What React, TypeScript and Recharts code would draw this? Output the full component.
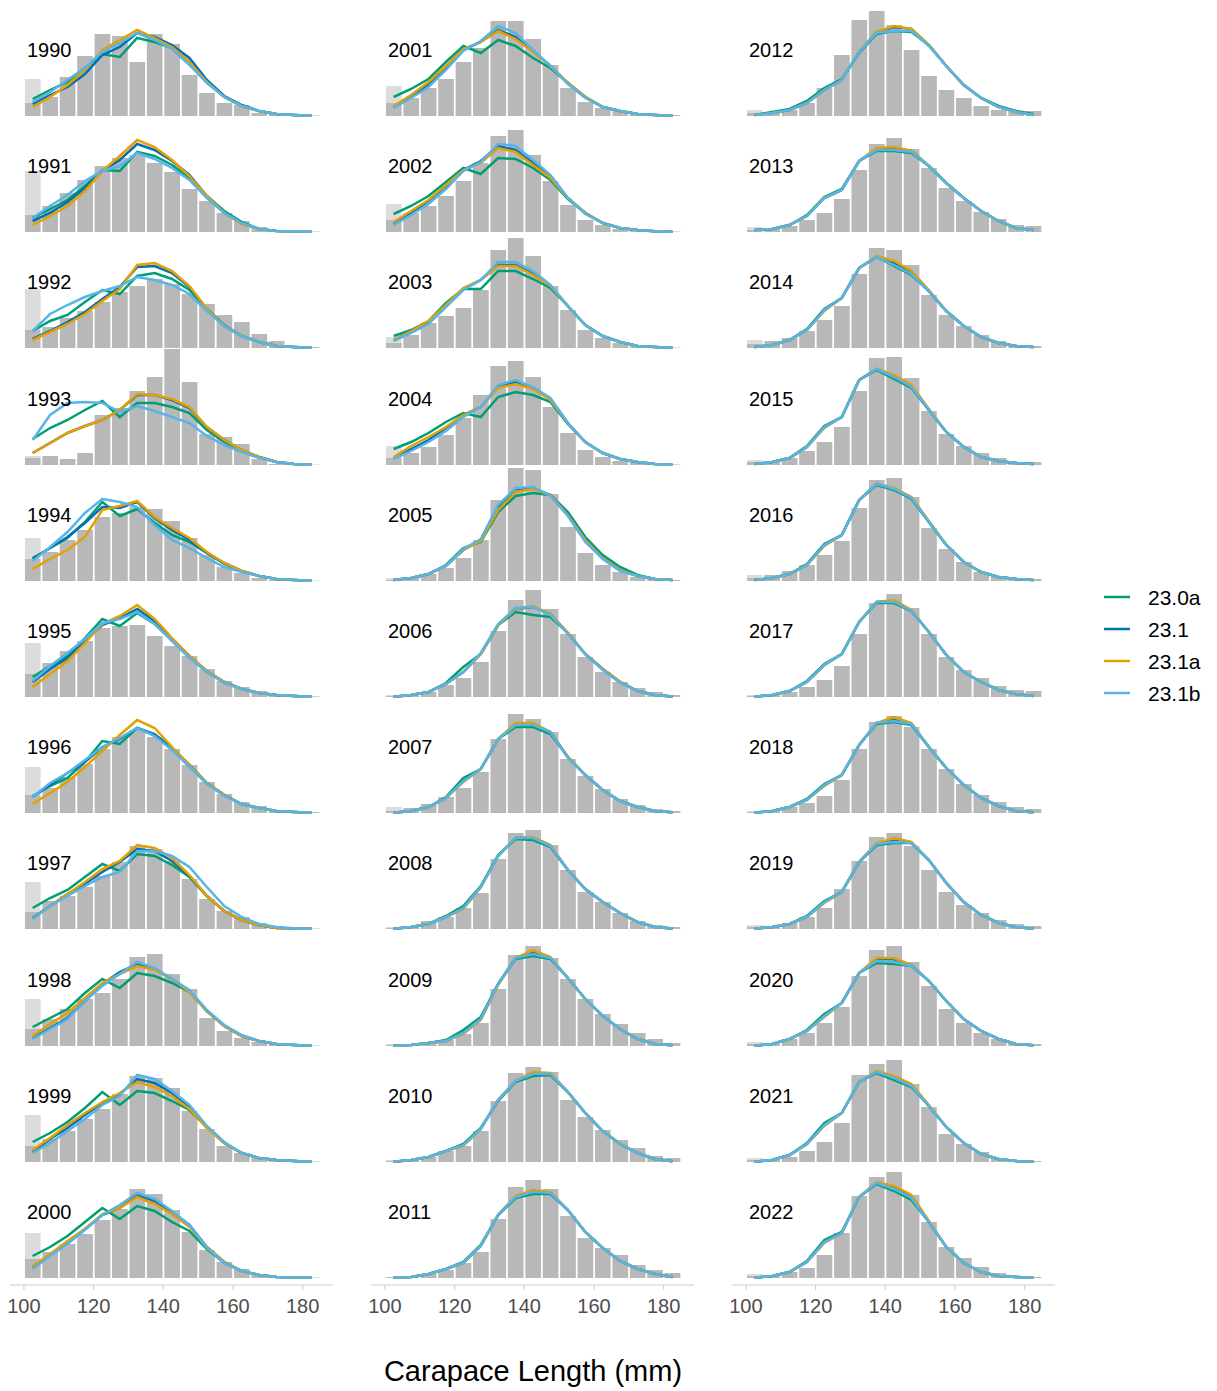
import React from 'react';
import { ComposedChart, Bar, Line, XAxis, YAxis } from 'recharts';

// facet years, column-major (11 rows x 3 cols)
const years = [
  1990, 1991, 1992, 1993, 1994, 1995, 1996, 1997, 1998, 1999, 2000,
  2001, 2002, 2003, 2004, 2005, 2006, 2007, 2008, 2009, 2010, 2011,
  2012, 2013, 2014, 2015, 2016, 2017, 2018, 2019, 2020, 2021, 2022,
];

// 5 mm length bins (mid points)
const binMids = [102.5, 107.5, 112.5, 117.5, 122.5, 127.5, 132.5, 137.5, 142.5, 147.5, 152.5, 157.5, 162.5, 167.5, 172.5, 177.5, 182.5];
const xTicks = [100, 120, 140, 160, 180];

// observed length composition (dark grey bars)
const observed = [
  [13, 19, 39, 60, 82, 80, 54, 82, 72, 41, 23, 13, 11, 3, 2, 1, 0.5],
  [17, 26, 39, 52, 66, 74, 77, 69, 60, 43, 31, 19, 11, 5, 2, 1, 0.5],
  [18, 21, 30, 37, 46, 56, 62, 69, 64, 54, 44, 33, 26, 14, 7, 2, 1],
  [7, 9, 6, 12, 50, 57, 74, 88, 116, 83, 31, 28, 21, 6, 1, 0.5, 0.3],
  [22, 29, 41, 51, 64, 68, 74, 72, 60, 43, 26, 14, 8, 3, 1, 0.5, 0.3],
  [23, 34, 46, 56, 69, 71, 72, 61, 51, 41, 28, 16, 10, 6, 3, 2, 0.7],
  [18, 25, 36, 49, 64, 76, 83, 76, 64, 48, 31, 19, 11, 7, 3, 2, 1],
  [17, 28, 33, 42, 53, 67, 83, 80, 68, 50, 30, 18, 12, 6, 3, 1, 0.5],
  [17, 27, 37, 47, 53, 67, 89, 92, 72, 57, 28, 15, 8, 4, 2, 1, 0.5],
  [16, 23, 31, 43, 53, 68, 86, 84, 74, 51, 33, 16, 9, 4, 3, 1, 0.5],
  [19, 26, 34, 44, 58, 69, 89, 84, 68, 46, 28, 16, 9, 4, 2, 1, 0.5],
  [13, 18, 28, 37, 54, 68, 95, 95, 77, 51, 28, 14, 8, 5, 3, 2, 1],
  [12, 19, 26, 36, 51, 69, 96, 102, 77, 51, 27, 12, 7, 3, 2, 1, 0.5],
  [5, 13, 25, 32, 40, 58, 98, 110, 92, 62, 38, 18, 10, 5, 2, 1, 0.5],
  [7, 12, 18, 30, 47, 70, 99, 104, 88, 58, 32, 15, 8, 4, 3, 1, 0.5],
  [1, 4, 7, 13, 23, 41, 81, 113, 111, 87, 54, 28, 16, 9, 4, 2, 1],
  [1, 2, 5, 12, 19, 35, 66, 97, 107, 88, 63, 40, 25, 15, 9, 5, 2],
  [2, 5, 9, 16, 25, 41, 74, 99, 94, 81, 54, 37, 24, 14, 8, 4, 2],
  [1, 3, 8, 12, 21, 36, 70, 96, 99, 84, 59, 37, 27, 16, 8, 4, 2],
  [1, 2, 3, 6, 12, 23, 57, 91, 100, 88, 67, 47, 32, 22, 13, 7, 3],
  [1, 3, 5, 11, 16, 31, 61, 89, 95, 90, 62, 45, 32, 22, 14, 6, 4],
  [1, 2, 4, 8, 15, 26, 59, 91, 98, 89, 62, 40, 30, 23, 13, 8, 5],
  [3, 3, 6, 13, 28, 61, 96, 105, 91, 66, 40, 26, 18, 10, 6, 4, 5],
  [2, 3, 6, 12, 19, 33, 62, 88, 94, 83, 64, 44, 31, 20, 13, 7, 6],
  [4, 7, 10, 17, 28, 42, 74, 100, 98, 83, 53, 33, 22, 13, 7, 3, 2],
  [3, 3, 7, 14, 23, 38, 74, 107, 108, 87, 54, 31, 19, 12, 7, 3, 3],
  [3, 6, 10, 16, 26, 40, 73, 101, 103, 84, 53, 32, 19, 9, 4, 2, 2],
  [1, 2, 5, 10, 17, 31, 63, 94, 103, 89, 63, 40, 27, 19, 11, 7, 6],
  [1, 2, 6, 10, 17, 33, 64, 91, 97, 86, 64, 44, 29, 18, 11, 6, 4],
  [2, 2, 6, 12, 21, 40, 68, 92, 96, 83, 59, 37, 24, 16, 9, 5, 3],
  [2, 2, 7, 13, 23, 39, 70, 96, 100, 84, 60, 37, 23, 13, 7, 3, 2],
  [2, 2, 5, 11, 20, 39, 87, 98, 102, 78, 55, 28, 18, 10, 4, 2, 1],
  [2, 2, 6, 10, 23, 45, 82, 101, 106, 83, 56, 31, 20, 11, 5, 2, 1],
];

// first bin including the lighter (excluded) part
const firstBinTotal = [
  37, 61, 59, 9, 43, 54, 46, 47, 47, 47, 45,
  30, 28, 11, 19, 3, 2, 6, 2, 2, 2, 1,
  6, 5, 8, 5, 6, 2, 2, 4, 4, 4, 4,
];

// model fits
const fit230a = [
  [17, 26, 34, 48, 62, 59, 78, 74, 68, 54, 34, 19, 10, 5, 2, 1, 0.3],
  [14, 23, 32, 46, 62, 61, 80, 76, 67, 54, 36, 21, 10, 3, 1, 0.7, 0.3],
  [17, 27, 33, 46, 58, 54, 72, 75, 69, 58, 39, 23, 12, 6, 2, 1, 0.3],
  [26, 37, 45, 55, 64, 48, 62, 62, 58, 52, 35, 23, 14, 8, 3, 1, 0.3],
  [23, 33, 43, 59, 79, 65, 72, 58, 46, 39, 28, 17, 10, 5, 2, 1, 0.3],
  [20, 31, 41, 59, 78, 71, 84, 73, 58, 40, 25, 15, 8, 4, 2, 1, 0.3],
  [17, 27, 35, 51, 72, 69, 85, 79, 65, 48, 30, 18, 9, 5, 2, 1, 0.3],
  [21, 31, 39, 52, 65, 58, 75, 73, 64, 52, 33, 18, 9, 4, 1, 0.7, 0.3],
  [19, 28, 37, 53, 67, 58, 73, 70, 63, 54, 35, 20, 10, 5, 2, 1, 0.3],
  [20, 29, 40, 54, 70, 57, 71, 69, 61, 52, 35, 19, 9, 4, 2, 1, 0.3],
  [22, 31, 42, 56, 70, 59, 72, 67, 56, 47, 29, 15, 7, 3, 1, 0.7, 0.3],
  [19, 27, 37, 54, 70, 63, 76, 70, 58, 48, 33, 19, 9, 5, 2, 1, 0.3],
  [18, 26, 36, 50, 64, 58, 74, 73, 64, 52, 33, 19, 9, 4, 2, 0.7, 0.3],
  [12, 18, 27, 45, 59, 59, 77, 77, 69, 60, 42, 23, 12, 6, 2, 1, 0.3],
  [16, 23, 32, 43, 52, 48, 68, 73, 70, 63, 41, 23, 12, 6, 3, 1, 0.3],
  [1, 3, 7, 16, 33, 39, 69, 85, 88, 86, 69, 44, 26, 14, 6, 2, 1],
  [0.3, 2, 5, 14, 30, 43, 72, 85, 82, 80, 64, 43, 28, 15, 6, 2, 0.5],
  [0.3, 2, 6, 16, 35, 44, 74, 86, 86, 79, 56, 38, 23, 12, 6, 2, 0.7],
  [0.3, 2, 5, 13, 23, 43, 74, 90, 89, 82, 59, 40, 27, 16, 7, 2, 0.5],
  [0.3, 1, 3, 6, 16, 29, 62, 87, 90, 87, 68, 47, 30, 17, 7, 2, 0.7],
  [0.3, 2, 5, 11, 18, 34, 61, 80, 86, 87, 70, 49, 31, 18, 9, 3, 0.7],
  [0.3, 1, 4, 9, 16, 33, 63, 80, 84, 84, 68, 46, 30, 17, 9, 4, 1],
  [1, 4, 7, 15, 28, 37, 63, 82, 85, 84, 71, 50, 31, 18, 10, 5, 2],
  [2, 3, 7, 17, 35, 43, 71, 81, 81, 79, 66, 49, 34, 21, 11, 4, 2],
  [1, 3, 8, 19, 39, 50, 80, 91, 82, 73, 57, 37, 22, 11, 5, 2, 1],
  [1, 3, 7, 19, 39, 48, 85, 95, 86, 77, 55, 33, 18, 8, 4, 2, 1],
  [1, 3, 7, 17, 37, 46, 81, 96, 91, 82, 59, 36, 19, 9, 4, 2, 1],
  [0.3, 2, 6, 16, 33, 43, 75, 94, 94, 86, 65, 42, 25, 15, 7, 3, 1],
  [0.3, 2, 6, 14, 29, 38, 68, 89, 91, 88, 66, 45, 28, 15, 7, 2, 0.7],
  [0.3, 2, 5, 13, 28, 37, 67, 84, 86, 86, 69, 46, 27, 14, 6, 2, 0.3],
  [0.3, 2, 7, 16, 32, 43, 73, 83, 82, 80, 65, 45, 27, 15, 7, 2, 0.7],
  [0.3, 2, 7, 19, 39, 49, 80, 89, 82, 75, 56, 35, 19, 8, 3, 1, 0.3],
  [0.3, 2, 6, 17, 38, 46, 81, 94, 87, 78, 56, 31, 15, 6, 2, 1, 0.3],
];

const fit231 = [
  [12, 21, 29, 42, 61, 69, 83, 79, 71, 58, 36, 20, 11, 5, 2, 1, 0.3],
  [11, 19, 30, 44, 61, 72, 88, 82, 71, 57, 36, 19, 9, 3, 1, 0.7, 0.3],
  [9, 17, 26, 36, 49, 61, 81, 82, 75, 61, 39, 22, 12, 6, 2, 1, 0.3],
  [12, 22, 32, 39, 45, 55, 70, 70, 65, 57, 38, 25, 15, 8, 3, 1, 0.3],
  [22, 33, 44, 58, 74, 73, 79, 63, 51, 41, 28, 18, 10, 5, 2, 1, 0.3],
  [15, 28, 39, 56, 72, 79, 88, 76, 58, 41, 26, 15, 8, 4, 2, 1, 0.3],
  [16, 28, 40, 51, 66, 74, 85, 78, 65, 48, 30, 18, 9, 5, 2, 1, 0.3],
  [11, 23, 35, 45, 57, 67, 80, 78, 68, 53, 33, 18, 9, 4, 1, 0.7, 0.3],
  [8, 18, 28, 45, 62, 74, 82, 77, 67, 55, 35, 20, 10, 5, 2, 1, 0.3],
  [10, 23, 34, 47, 59, 68, 83, 79, 69, 55, 35, 19, 9, 4, 2, 1, 0.3],
  [11, 23, 36, 49, 63, 70, 83, 77, 66, 53, 31, 16, 7, 3, 1, 0.7, 0.3],
  [9, 20, 31, 48, 66, 74, 86, 79, 65, 50, 33, 19, 9, 5, 2, 1, 0.3],
  [8, 19, 31, 46, 62, 71, 86, 82, 69, 56, 34, 19, 9, 4, 2, 0.7, 0.3],
  [8, 17, 26, 42, 59, 68, 83, 83, 74, 62, 42, 23, 12, 6, 2, 1, 0.3],
  [7, 16, 25, 37, 50, 58, 78, 83, 77, 66, 42, 23, 12, 6, 3, 1, 0.3],
  [1, 3, 7, 15, 31, 41, 74, 92, 93, 86, 67, 41, 23, 11, 5, 2, 1],
  [0.3, 2, 5, 13, 25, 43, 72, 88, 90, 83, 64, 43, 28, 15, 6, 2, 0.5],
  [0.3, 2, 6, 15, 32, 44, 74, 89, 89, 81, 56, 38, 23, 12, 6, 2, 0.7],
  [0.3, 2, 5, 12, 21, 42, 73, 91, 91, 83, 59, 40, 27, 16, 7, 2, 0.5],
  [0.3, 1, 3, 5, 13, 27, 62, 88, 93, 88, 68, 47, 30, 17, 7, 2, 0.7],
  [0.3, 2, 5, 11, 17, 33, 62, 81, 88, 88, 70, 49, 31, 18, 9, 3, 0.7],
  [0.3, 1, 4, 9, 15, 32, 63, 81, 86, 85, 68, 46, 30, 17, 9, 4, 1],
  [1, 3, 6, 13, 26, 36, 64, 84, 89, 87, 71, 50, 31, 18, 9, 4, 1],
  [2, 3, 7, 16, 34, 42, 71, 83, 84, 81, 66, 49, 34, 21, 11, 4, 2],
  [1, 3, 8, 18, 38, 50, 80, 91, 85, 76, 57, 37, 22, 11, 5, 2, 1],
  [1, 3, 7, 18, 38, 48, 85, 96, 88, 78, 55, 33, 18, 8, 4, 2, 1],
  [1, 3, 7, 16, 36, 46, 81, 97, 92, 83, 59, 36, 19, 9, 4, 2, 1],
  [0.3, 2, 6, 15, 32, 43, 75, 95, 96, 86, 65, 42, 25, 15, 7, 3, 1],
  [0.3, 2, 6, 13, 28, 38, 68, 90, 93, 89, 66, 45, 28, 15, 7, 2, 0.7],
  [0.3, 2, 5, 12, 27, 37, 67, 85, 88, 86, 69, 46, 27, 14, 6, 2, 0.3],
  [0.3, 2, 7, 15, 30, 43, 73, 87, 87, 81, 65, 45, 27, 15, 7, 2, 0.7],
  [0.3, 2, 7, 18, 37, 49, 80, 90, 85, 77, 56, 35, 19, 8, 3, 1, 0.3],
  [0.3, 2, 6, 16, 36, 45, 81, 95, 91, 82, 56, 31, 15, 6, 2, 1, 0.3],
];

const fit231a = [
  [9, 19, 31, 46, 66, 76, 86, 78, 69, 54, 34, 19, 10, 5, 2, 1, 0.3],
  [7, 16, 26, 41, 61, 76, 92, 85, 72, 56, 36, 19, 8, 3, 1, 0.7, 0.3],
  [8, 16, 24, 34, 47, 59, 83, 85, 77, 62, 39, 22, 12, 6, 2, 1, 0.3],
  [12, 22, 32, 39, 45, 55, 71, 70, 66, 58, 38, 25, 15, 8, 3, 1, 0.3],
  [12, 22, 31, 44, 71, 75, 80, 64, 53, 43, 29, 18, 10, 5, 2, 1, 0.3],
  [10, 23, 36, 54, 73, 81, 92, 78, 59, 41, 26, 15, 8, 4, 2, 1, 0.3],
  [9, 20, 31, 46, 62, 78, 93, 85, 66, 48, 30, 18, 9, 5, 2, 1, 0.3],
  [10, 23, 35, 47, 60, 68, 84, 81, 71, 54, 33, 18, 9, 4, 1, 0.7, 0.3],
  [10, 22, 33, 48, 63, 72, 80, 76, 67, 54, 35, 20, 10, 5, 2, 1, 0.3],
  [12, 24, 37, 49, 60, 69, 80, 75, 66, 53, 34, 19, 9, 4, 2, 1, 0.3],
  [12, 24, 37, 49, 64, 70, 81, 74, 64, 51, 31, 16, 7, 3, 1, 0.7, 0.3],
  [10, 21, 34, 50, 67, 74, 85, 77, 64, 50, 33, 19, 9, 5, 2, 1, 0.3],
  [10, 21, 32, 47, 62, 69, 84, 80, 67, 54, 34, 19, 9, 4, 2, 0.7, 0.3],
  [8, 17, 27, 43, 60, 68, 82, 82, 73, 62, 42, 23, 12, 6, 2, 1, 0.3],
  [8, 19, 28, 38, 50, 58, 77, 81, 76, 65, 42, 23, 12, 6, 3, 1, 0.3],
  [1, 3, 7, 15, 31, 40, 71, 89, 92, 86, 66, 41, 23, 11, 5, 2, 1],
  [0.3, 2, 5, 13, 25, 43, 72, 88, 91, 83, 64, 43, 28, 15, 6, 2, 0.5],
  [0.3, 2, 6, 15, 31, 44, 74, 90, 90, 81, 56, 38, 23, 12, 6, 2, 0.7],
  [0.3, 2, 5, 12, 20, 42, 73, 91, 92, 84, 59, 40, 27, 16, 7, 2, 0.5],
  [0.3, 1, 3, 5, 12, 26, 61, 88, 96, 89, 68, 47, 30, 17, 7, 2, 0.7],
  [0.3, 2, 5, 11, 16, 33, 62, 81, 90, 89, 70, 49, 31, 18, 9, 3, 0.7],
  [0.3, 1, 4, 9, 15, 32, 63, 82, 88, 86, 68, 46, 30, 17, 9, 4, 1],
  [1, 3, 6, 13, 26, 36, 64, 84, 90, 87, 71, 50, 31, 18, 9, 4, 1],
  [2, 3, 7, 16, 34, 42, 71, 84, 85, 81, 66, 49, 34, 21, 11, 4, 2],
  [1, 3, 8, 18, 37, 50, 80, 92, 87, 77, 58, 37, 22, 11, 5, 2, 1],
  [1, 3, 7, 18, 37, 48, 85, 96, 90, 80, 56, 33, 18, 8, 4, 2, 1],
  [1, 3, 7, 16, 35, 46, 81, 97, 93, 84, 60, 36, 19, 9, 4, 2, 1],
  [0.3, 2, 6, 15, 32, 43, 75, 95, 97, 87, 65, 42, 25, 15, 7, 3, 1],
  [0.3, 2, 6, 13, 27, 38, 68, 90, 96, 90, 66, 45, 28, 15, 7, 2, 0.7],
  [0.3, 2, 5, 12, 26, 37, 67, 86, 91, 87, 69, 46, 27, 14, 6, 2, 0.3],
  [0.3, 2, 7, 15, 29, 43, 73, 88, 88, 81, 65, 45, 27, 15, 7, 2, 0.7],
  [0.3, 2, 7, 18, 36, 49, 80, 91, 86, 78, 57, 35, 19, 8, 3, 1, 0.3],
  [0.3, 2, 6, 16, 35, 45, 81, 96, 92, 83, 57, 31, 15, 6, 2, 1, 0.3],
];

const fit231b = [
  [14, 24, 36, 48, 64, 73, 83, 76, 67, 51, 33, 19, 10, 5, 2, 1, 0.3],
  [14, 26, 37, 51, 61, 66, 79, 73, 64, 52, 34, 19, 9, 3, 1, 0.7, 0.3],
  [17, 34, 43, 51, 57, 62, 71, 68, 63, 54, 37, 22, 12, 6, 2, 1, 0.3],
  [25, 50, 62, 63, 62, 53, 59, 54, 48, 42, 29, 20, 13, 7, 3, 1, 0.3],
  [20, 34, 49, 68, 82, 79, 74, 56, 41, 33, 23, 14, 9, 5, 2, 1, 0.3],
  [16, 31, 44, 58, 74, 78, 85, 73, 56, 39, 25, 14, 8, 4, 2, 1, 0.3],
  [16, 30, 40, 53, 66, 75, 85, 77, 63, 46, 29, 17, 9, 5, 2, 1, 0.3],
  [10, 23, 33, 43, 52, 57, 78, 78, 73, 62, 42, 23, 12, 5, 2, 0.7, 0.3],
  [7, 17, 27, 45, 60, 72, 84, 78, 67, 56, 36, 21, 11, 5, 2, 1, 0.3],
  [9, 19, 31, 43, 57, 66, 87, 83, 71, 57, 36, 20, 9, 4, 2, 1, 0.3],
  [9, 22, 34, 48, 63, 73, 85, 79, 67, 53, 30, 15, 7, 3, 1, 0.7, 0.3],
  [8, 18, 29, 46, 65, 75, 90, 83, 66, 50, 32, 18, 9, 5, 2, 1, 0.3],
  [7, 17, 28, 43, 61, 70, 88, 86, 72, 57, 34, 18, 9, 4, 2, 0.7, 0.3],
  [7, 15, 24, 41, 58, 68, 86, 86, 77, 63, 42, 23, 12, 6, 2, 1, 0.3],
  [6, 14, 23, 34, 48, 58, 80, 85, 78, 67, 42, 23, 12, 6, 3, 1, 0.3],
  [1, 3, 7, 15, 32, 42, 76, 93, 94, 85, 65, 39, 22, 10, 5, 2, 1],
  [0.3, 2, 5, 13, 25, 44, 73, 89, 90, 82, 63, 43, 27, 14, 6, 2, 0.5],
  [0.3, 2, 6, 15, 32, 44, 74, 88, 88, 81, 55, 38, 23, 12, 6, 2, 0.7],
  [0.3, 2, 5, 12, 21, 42, 73, 91, 91, 83, 59, 40, 27, 16, 7, 2, 0.5],
  [0.3, 1, 3, 5, 13, 27, 62, 88, 92, 88, 68, 47, 30, 17, 7, 2, 0.7],
  [0.3, 2, 5, 11, 17, 33, 62, 81, 88, 88, 70, 49, 31, 18, 9, 3, 0.7],
  [0.3, 1, 4, 9, 15, 32, 63, 81, 86, 85, 68, 46, 30, 17, 9, 4, 1],
  [1, 3, 6, 13, 26, 36, 64, 83, 85, 85, 70, 50, 31, 18, 9, 4, 1],
  [2, 3, 7, 16, 34, 42, 71, 82, 82, 80, 66, 49, 34, 21, 11, 4, 2],
  [1, 3, 8, 18, 38, 50, 80, 91, 83, 74, 57, 37, 22, 11, 5, 2, 1],
  [1, 3, 7, 18, 38, 48, 85, 96, 88, 78, 55, 33, 18, 8, 4, 2, 1],
  [1, 3, 7, 16, 36, 46, 81, 97, 92, 83, 59, 36, 19, 9, 4, 2, 1],
  [0.3, 2, 6, 15, 32, 43, 75, 95, 95, 86, 65, 42, 25, 15, 7, 3, 1],
  [0.3, 2, 6, 13, 28, 38, 68, 90, 92, 89, 66, 45, 28, 15, 7, 2, 0.7],
  [0.3, 2, 5, 12, 27, 37, 67, 85, 87, 86, 69, 46, 27, 14, 6, 2, 0.3],
  [0.3, 2, 7, 15, 30, 43, 73, 85, 84, 80, 65, 45, 27, 15, 7, 2, 0.7],
  [0.3, 2, 7, 18, 37, 49, 80, 90, 84, 76, 56, 35, 19, 8, 3, 1, 0.3],
  [0.3, 2, 6, 16, 36, 45, 81, 95, 89, 80, 56, 31, 15, 6, 2, 1, 0.3],
];

const series = [
  { key: 'm230a', name: '23.0a', color: '#009E73' },
  { key: 'm231', name: '23.1', color: '#0072B2' },
  { key: 'm231a', name: '23.1a', color: '#E69F00' },
  { key: 'm231b', name: '23.1b', color: '#56B4E9' },
];

const ROWS = 11;
const COL_STEP = 361;
const ROW_STEP = 116.2;
const PAD_L = 10;
const PANEL_W = 323;
const PANEL_H = 116;
const BELOW = 7;
const AXIS_H = 40;
const X_DOMAIN: [number, number] = [96, 188.7];
// bins touch each other (slight overlap hides anti-alias seams)
const BAR_W = (5 * PANEL_W) / (X_DOMAIN[1] - X_DOMAIN[0]) + 0.4;
const FONT = '"Liberation Sans", Arial, sans-serif';

const Panel = ({ idx }: { idx: number }) => {
  const col = Math.floor(idx / ROWS);
  const row = idx % ROWS;
  const bottom = row === ROWS - 1;
  const left = col * COL_STEP;
  const top = ROW_STEP * row;

  const data = binMids.map((len, j) => ({
    len,
    obs: observed[idx][j],
    extra: j === 0 ? firstBinTotal[idx] - observed[idx][0] : 0,
    m230a: fit230a[idx][j],
    m231: fit231[idx][j],
    m231a: fit231a[idx][j],
    m231b: fit231b[idx][j],
  }));

  return (
    <div style={{ position: 'absolute', left, top }}>
      <ComposedChart
        width={PANEL_W + PAD_L + 4}
        height={PANEL_H + BELOW + (bottom ? AXIS_H : 0)}
        data={data}
        margin={{ top: 0, right: 4, bottom: 0, left: PAD_L }}
        barCategoryGap={0}
        barGap={0}
      >
        <XAxis
          dataKey="len"
          type="number"
          domain={X_DOMAIN}
          allowDataOverflow
          ticks={xTicks}
          interval={0}
          hide={!bottom}
          height={AXIS_H}
          tick={{ fill: '#4d4d4d', fontSize: 20 }}
          tickSize={5}
          tickMargin={9}
          stroke="#cccccc"
        />
        <YAxis hide domain={[-BELOW, PANEL_H]} allowDataOverflow />
        <Bar dataKey="obs" stackId="h" fill="#b8b8b8" barSize={BAR_W} isAnimationActive={false} />
        <Bar dataKey="extra" stackId="h" fill="#dcdcdc" barSize={BAR_W} isAnimationActive={false} />
        {series.map((s) => (
          <Line
            key={s.key}
            type="linear"
            dataKey={s.key}
            stroke={s.color}
            strokeWidth={2.5}
            dot={false}
            isAnimationActive={false}
          />
        ))}
      </ComposedChart>
      <div
        style={{
          position: 'absolute',
          left: 27,
          top: PANEL_H - 66 - 12,
          fontSize: 20,
          lineHeight: '24px',
          color: '#000',
        }}
      >
        {years[idx]}
      </div>
    </div>
  );
};

export default function App() {
  return (
    <div
      style={{
        position: 'absolute',
        left: 0,
        top: 0,
        width: 1217,
        height: 1391,
        background: '#fff',
        fontFamily: FONT,
      }}
    >
      {years.map((y, i) => (
        <Panel key={y} idx={i} />
      ))}

      <div
        style={{
          position: 'absolute',
          left: 0,
          width: 1066,
          top: 1353,
          textAlign: 'center',
          fontSize: 29,
          lineHeight: '36px',
          color: '#000',
        }}
      >
        Carapace Length (mm)
      </div>

      <svg style={{ position: 'absolute', left: 1095, top: 575 }} width={122} height={140}>
        {series.map((s, i) => (
          <g key={s.key}>
            <line x1={9} x2={35} y1={22 + i * 32} y2={22 + i * 32} stroke={s.color} strokeWidth={2.5} />
            <text x={53} y={22 + i * 32} dominantBaseline="central" fontSize={21} fill="#000" fontFamily={FONT}>
              {s.name}
            </text>
          </g>
        ))}
      </svg>
    </div>
  );
}
